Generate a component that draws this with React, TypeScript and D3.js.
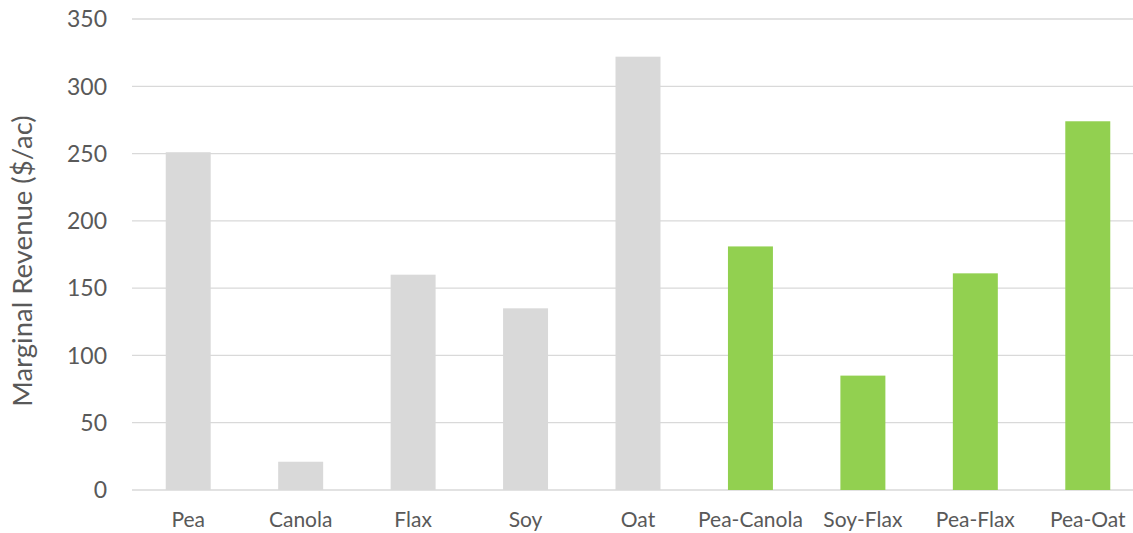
import React from "react";
import * as d3 from "d3";

const categories = ["Pea", "Canola", "Flax", "Soy", "Oat", "Pea-Canola", "Soy-Flax", "Pea-Flax", "Pea-Oat"];
const values = [251, 21, 160, 135, 322, 181, 85, 161, 274];
const groups = ["single", "single", "single", "single", "single", "mix", "mix", "mix", "mix"];
const yTicks = [0, 50, 100, 150, 200, 250, 300, 350];
const yTitle = "Marginal Revenue ($/ac)";

const W = 1133;
const H = 533;
const FONT = "Lato, 'Open Sans', sans-serif";

export default function App() {
  const x = d3.scaleBand<string>().domain(categories).range([132, 1144]).paddingInner(0.6).paddingOuter(0.3);
  const y = d3.scaleLinear().domain([0, 350]).range([490, 19]);
  const color = (g: string) => (g === "mix" ? "#92d050" : "#d9d9d9");

  return (
    <svg width={W} height={H} style={{ position: "absolute", left: 0, top: 0, background: "#fff" }}>
      {yTicks.map((t) => (
        <g key={t}>
          <line x1={132} x2={1144} y1={y(t)} y2={y(t)} stroke="#d9d9d9" strokeWidth={t === 0 ? 1.5 : 1.3} />
          <text x={107} y={y(t)} dy="0.36em" textAnchor="end" fontSize={23} fill="#595959" fontFamily={FONT}>
            {t}
          </text>
        </g>
      ))}
      {categories.map((c, i) => (
        <rect key={c} x={x(c)} y={y(values[i])} width={x.bandwidth()} height={y(0) - y(values[i])} fill={color(groups[i])} />
      ))}
      {categories.map((c) => (
        <text key={c} x={(x(c) as number) + x.bandwidth() / 2} y={527} textAnchor="middle" fontSize={21} fill="#595959" fontFamily={FONT}>
          {c}
        </text>
      ))}
      <text transform={`translate(32,261) rotate(-90)`} textAnchor="middle" fontSize={27.5} fill="#595959" fontFamily={FONT}>
        {yTitle}
      </text>
    </svg>
  );
}
